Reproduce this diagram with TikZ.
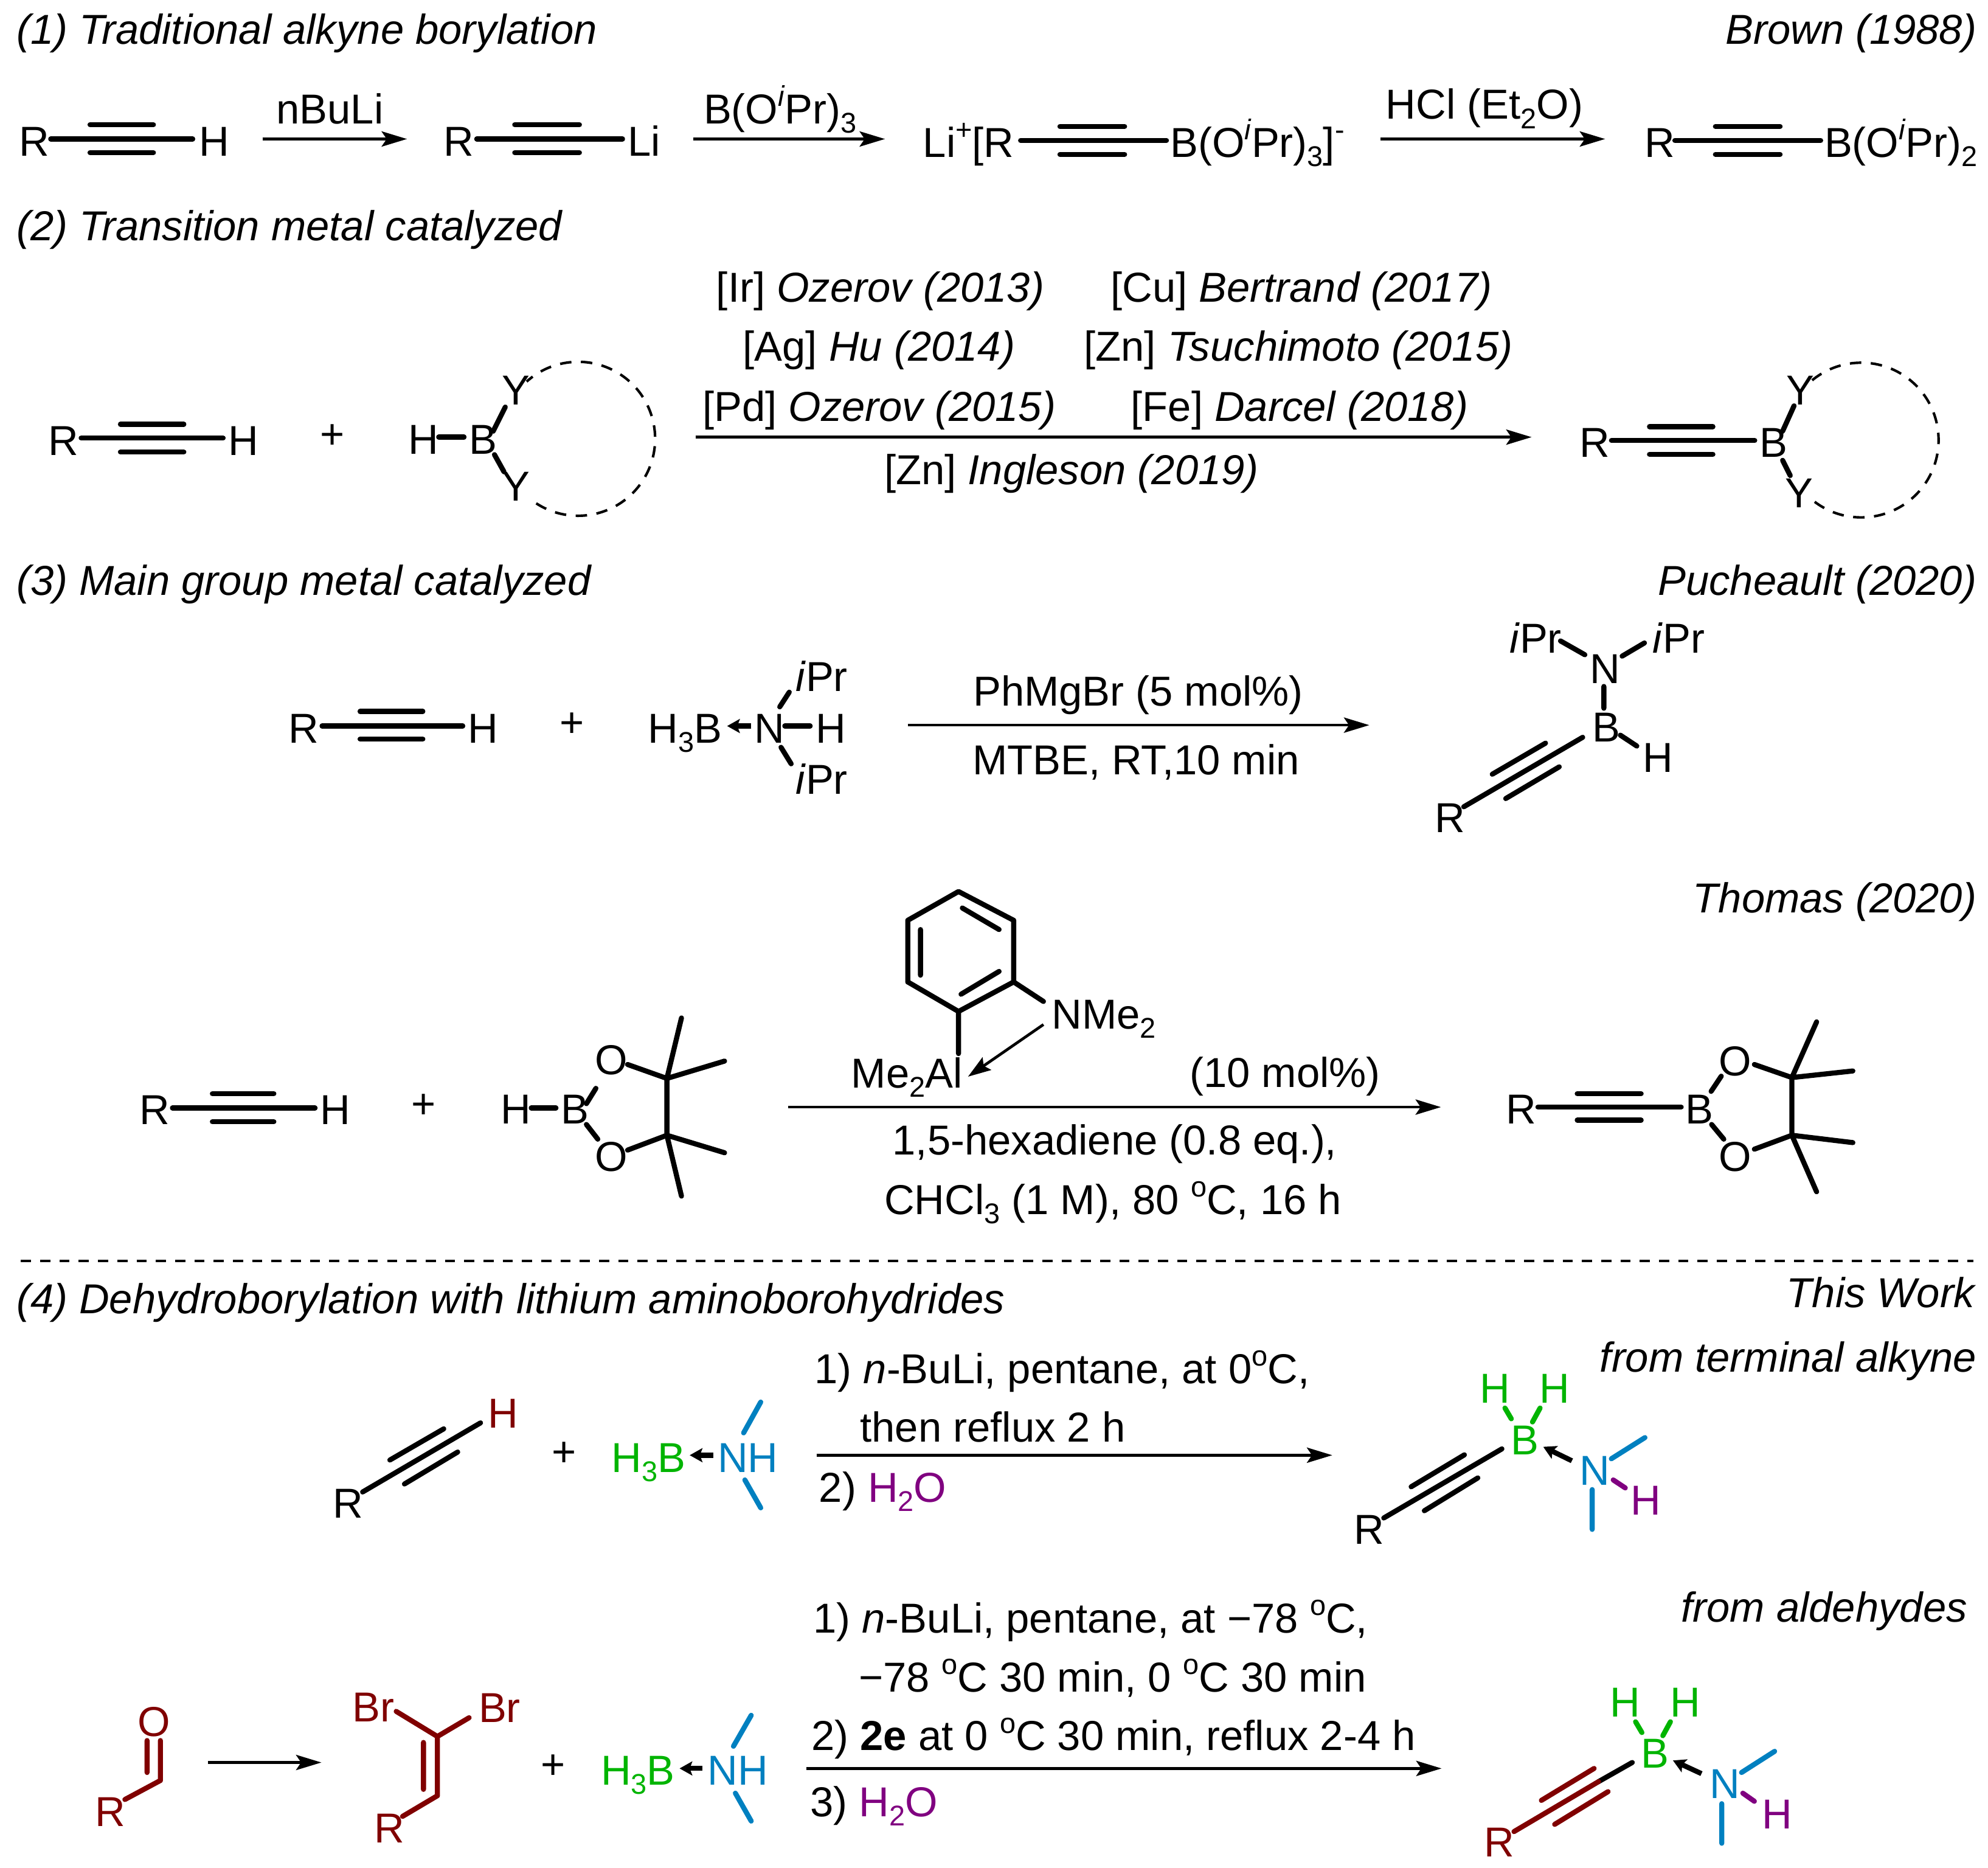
\documentclass[tikz,border=0pt]{standalone}
\usepackage{fontspec}
\setmainfont{Liberation Sans}
\usetikzlibrary{arrows.meta}
\definecolor{cred}{RGB}{128,0,0}
\definecolor{cgreen}{RGB}{0,180,0}
\definecolor{cblue}{RGB}{0,128,192}
\definecolor{cpurple}{RGB}{128,0,128}
\newcommand{\SubT}[1]{\raisebox{-0.22em}{\fontsize{22.5}{22.5}\selectfont #1}}
\newcommand{\SupT}[1]{\raisebox{0.42em}{\fontsize{22.5}{22.5}\selectfont #1}}
\newcommand{\OiPr}{O\SupT{\textit{i}}Pr}
\newcommand{\degC}{\SupT{o}C}
\newcommand{\Tl}[5][black]{\node[txt,text=#1,anchor=base west,yshift=-1pt] (#2) at (#3,#4) {#5};}
\newcommand{\Tr}[5][black]{\node[txt,text=#1,anchor=base east,xshift=1pt,yshift=-1pt] (#2) at (#3,#4) {#5};}
\newcommand{\Tc}[5][black]{\node[txt,text=#1,anchor=center,xshift=1pt] (#2) at (#3,#4) {#5};}
\tikzset{
  txt/.style={inner sep=0pt,outer sep=0pt,font=\fontsize{33}{33}\selectfont},
  bond/.style={line width=4pt,line cap=round,line join=round},
  rxn/.style={line width=2.2pt,-{Stealth[length=20pt,width=12pt,inset=4pt]}},
  dat/.style={line width=4pt,-{Stealth[length=10pt,width=11pt,inset=2pt]}},
  dashring/.style={line width=2pt,dash pattern=on 9pt off 7.5pt},
  divider/.style={line width=2.2pt,dash pattern=on 8pt off 7.2pt},
}
\begin{document}
\begin{tikzpicture}[x=1pt,y=-1pt]
\useasboundingbox (0,0) rectangle (1568,1472.6);
% ---------- (1)
\Tl{h1}{13}{33.6}{\textit{(1) Traditional alkyne borylation}}
\Tr{c1}{1558}{33.6}{\textit{Brown (1988)}}
\Tl{a1}{15}{122}{R}
\draw[bond] (40,109.6)--(152,109.6) (71,98.3)--(121,98.3) (71,120.3)--(121,120.3);
\Tl{a2}{157}{122}{H}
\Tl{r1}{218}{96.4}{nBuLi}
\coordinate (ar1s) at (207,109.6); \coordinate (ar1e) at (321,109.6);
\draw[rxn] (ar1s)--(ar1e);
\Tl{a3}{350}{122}{R}
\draw[bond] (376,109.6)--(491,109.6) (406,98.3)--(457,98.3) (406,120.3)--(457,120.3);
\Tl{a4}{495}{122}{Li}
\Tl{r2}{555}{96.4}{B(\OiPr)\SubT{3}}
\coordinate (ar2s) at (547,109.6); \coordinate (ar2e) at (698,109.6);
\draw[rxn] (ar2s)--(ar2e);
\Tl{a5}{728}{123}{Li\SupT{+}[R}
\draw[bond] (805,110.7)--(920,110.7) (836,99.7)--(887,99.7) (836,121.7)--(887,121.7);
\Tl{a6}{923}{123}{B(\OiPr)\SubT{3}]\SupT{-}}
\Tl{r3}{1093}{93}{HCl (Et\SubT{2}O)}
\coordinate (ar3s) at (1089,109.6); \coordinate (ar3e) at (1266,109.6);
\draw[rxn] (ar3s)--(ar3e);
\Tl{a7}{1297}{123}{R}
\draw[bond] (1321,110.7)--(1436,110.7) (1353,99.7)--(1404,99.7) (1353,121.7)--(1404,121.7);
\Tl{a8}{1439}{123}{B(\OiPr)\SubT{2}}
% ---------- (2)
\Tl{h2}{13}{188.6}{\textit{(2) Transition metal catalyzed}}
\Tl{b1}{38}{358}{R}
\draw[bond] (64,345.5)--(176,345.5) (95,334.5)--(145,334.5) (95,356.5)--(145,356.5);
\Tl{b2}{180}{358}{H}
\Tc{plus2}{261}{344}{+}
\Tl{b3}{322}{357}{H}
\draw[bond] (346,344.7)--(366,344.7);
\Tl{b4}{370}{357}{B}
\node[txt,anchor=base] (b5) at (407,319) {Y};
\node[txt,anchor=base] (b6) at (407,395) {Y};
\draw[bond] (389,340)--(398.5,321) (390,358.5)--(397.5,372);
\draw[dashring] (456,346) ++(123:60.7) arc[start angle=123,end angle=-132,radius=60.7];
\Tl{r4}{565}{237}{[Ir] \textit{Ozerov (2013)}}
\Tl{r5}{876}{237}{[Cu] \textit{Bertrand (2017)}}
\Tl{r6}{586}{283.5}{[Ag] \textit{Hu (2014)}}
\Tl{r7}{855}{283.5}{[Zn] \textit{Tsuchimoto (2015)}}
\Tl{r8}{554}{331}{[Pd] \textit{Ozerov (2015)}}
\Tl{r9}{892}{331}{[Fe] \textit{Darcel (2018)}}
\coordinate (ar4s) at (548.5,344.7); \coordinate (ar4e) at (1208,344.7);
\draw[rxn] (ar4s)--(ar4e);
\Tl{r10}{697.5}{381}{[Zn] \textit{Ingleson (2019)}}
\Tl{b7}{1246}{359.3}{R}
\draw[bond] (1271,347.4)--(1384,347.4) (1301,336.4)--(1351,336.4) (1301,358.2)--(1351,358.2);
\Tl{b8}{1388}{359.3}{B}
\node[txt,anchor=base] (b9) at (1420,319) {Y};
\node[txt,anchor=base] (b10) at (1419,400.5) {Y};
\draw[bond] (1406,340)--(1415,320) (1406,363)--(1412,375);
\draw[dashring] (1468,347) ++(127:61) arc[start angle=127,end angle=-131,radius=61];
% ---------- (3)
\Tl{h3}{13}{468.4}{\textit{(3) Main group metal catalyzed}}
\Tr{c3}{1558}{468.4}{\textit{Pucheault (2020)}}
\Tl{d1}{227.5}{585}{R}
\draw[bond] (254,572.5)--(365,572.5) (284,561)--(333.5,561) (284,582.8)--(333.5,582.8);
\Tl{d2}{369}{585}{H}
\Tc{plus3}{450}{571.5}{+}
\Tl{d3}{511}{585}{H\SubT{3}B}
\draw[dat] (592.5,572.5)--(573.5,572.5);
\Tl{d4}{595}{585}{N}
\draw[bond] (619,572.5)--(639,572.5);
\Tl{d5}{643.5}{585}{H}
\Tl{d6}{627.5}{544}{\textit{i}Pr}
\Tl{d7}{627.5}{625.3}{\textit{i}Pr}
\draw[bond] (615,557.4)--(622.5,545.8) (616,589.3)--(624,602.3);
\coordinate (ar5s) at (716,571.8); \coordinate (ar5e) at (1080,571.8);
\draw[rxn] (ar5s)--(ar5e);
\Tl{r11}{767.5}{555.7}{PhMgBr (5 mol\%)}
\Tl{r12}{767}{610}{MTBE, RT,10 min}
\Tl{e1}{1190.6}{514}{\textit{i}Pr}
\Tl{e2}{1303.5}{514}{\textit{i}Pr}
\Tl{e3}{1254}{538}{N}
\draw[bond] (1230.8,505.4)--(1250,516.3) (1279.4,517.4)--(1297,507) (1265,541.3)--(1265,558.5);
\Tl{e4}{1256}{584}{B}
\draw[bond] (1278,579.7)--(1291,588.3);
\Tl{e5}{1296}{608}{H}
\draw[bond] (1248.3,581.4)--(1154.5,636.2) (1219,586)--(1177,610.5) (1229.8,604.7)--(1187.6,629.7);
\Tl{e6}{1131.5}{655.4}{R}
\Tr{c4}{1558}{718.8}{\textit{Thomas (2020)}}
% pinacol row
\Tl{f1}{110}{885.6}{R}
\draw[bond] (136,873.7)--(248.5,873.7) (167.5,862.4)--(216,862.4) (167.5,884.6)--(216,884.6);
\Tl{f2}{252.5}{885.6}{H}
\Tc{plus4}{333}{872.3}{+}
\Tl{f3}{395}{885}{H}
\draw[bond] (419,873.7)--(438.5,873.7);
\Tl{f4}{442.5}{885}{B}
\Tc{f5}{481}{836}{O}
\Tc{f6}{481}{912.4}{O}
\draw[bond] (462.5,870.3)--(470,858.2) (462.5,886.7)--(471.5,898.3)
  (495,839.4)--(526,850.4)--(526,895.2)--(495,906.9)
  (537.5,802.7)--(526,850.4)--(571.5,836.7)
  (571.5,909)--(526,895.2)--(537.5,943.2);
% catalyst
\draw[bond] (756,703)--(799.5,725.7)--(799.5,774.3)--(756,797.6)--(716,774.3)--(716,725.7)--cycle;
\draw[bond] (726,733)--(726,769) (759,716)--(788,733) (758,784)--(788,766);
\draw[bond] (756,797.6)--(756,830.8) (799.5,774.3)--(823,789.7);
\coordinate (cat1) at (823,807.9); \coordinate (cat2) at (763.5,849);
\draw[line width=2.2pt,-{Stealth[length=18pt,width=12pt,inset=3pt]}] (cat1)--(cat2);
\Tl{g1}{829.6}{810.3}{NMe\SubT{2}}
\Tl{g2}{671.5}{857}{Me\SubT{2}Al}
\Tl{g3}{938.4}{856.5}{(10 mol\%)}
\coordinate (ar6s) at (621.5,873); \coordinate (ar6e) at (1136.5,873);
\draw[rxn] (ar6s)--(ar6e);
\Tl{r13}{704}{909.6}{1,5-hexadiene (0.8 eq.),}
\Tl{r14}{697.5}{956.6}{CHCl\SubT{3} (1 M), 80 \degC, 16 h}
\Tl{f7}{1188}{885}{R}
\draw[bond] (1213,873)--(1326,873) (1244,862.4)--(1294.4,862.4) (1244,883.3)--(1294.4,883.3);
\Tl{f8}{1329.5}{885}{B}
\Tc{f9}{1367.6}{837}{O}
\Tc{f10}{1367.6}{912}{O}
\draw[bond] (1349.6,860.6)--(1357.6,848.6) (1350,886.7)--(1359.6,898.3)
  (1383.7,839.4)--(1413.3,849.7)--(1413.3,895.2)--(1383.7,906.2)
  (1432.8,805.8)--(1413.3,849.7)--(1461.4,844.5)
  (1461.4,901)--(1413.3,895.2)--(1432.8,939.8);
% ---------- divider
\coordinate (divs) at (16.5,994.4); \coordinate (dive) at (1556.7,994.4);
\draw[divider] (divs)--(dive);
% ---------- (4)
\Tl{h4}{13}{1034.7}{\textit{(4) Dehydroborylation with lithium aminoborohydrides}}
\Tr{c5}{1558}{1030}{\textit{This Work}}
\Tr{c6}{1558}{1081}{\textit{from terminal alkyne}}
\Tl[cred]{k1}{385}{1125}{H}
\draw[bond] (379,1122)--(286,1176.5) (350,1126.7)--(307.5,1151.3) (361,1145)--(319,1170.2);
\Tl{k2}{262.5}{1196}{R}
\Tc{plus5}{444}{1146.5}{+}
\Tl[cgreen]{k3}{482.5}{1159.8}{H\SubT{3}B}
\draw[dat] (562.5,1147.5)--(544,1147.5);
\Tl[cblue]{k4}{566}{1160}{NH}
\draw[bond,cblue] (586.5,1129.9)--(600,1105.6) (587.5,1167)--(600,1189);
\Tl{r15}{642.5}{1089.8}{1) \textit{n}-BuLi, pentane, at 0\degC,}
\Tl{r16}{678.5}{1136}{then reflux 2 h}
\Tl{r17}{646}{1183.4}{2) \textcolor{cpurple}{H\SubT{2}O}}
\coordinate (ar7s) at (644,1147.5); \coordinate (ar7e) at (1050.8,1147.5);
\draw[rxn] (ar7s)--(ar7e);
\Tl[cgreen]{m1}{1167}{1105.3}{H}
\Tl[cgreen]{m2}{1214}{1105.3}{H}
\Tl[cgreen]{m3}{1191.6}{1146.2}{B}
\draw[bond,cgreen] (1187,1110.3)--(1192,1118.8) (1214.7,1110.3)--(1208.7,1121.3);
\draw[bond] (1184.6,1142.5)--(1091.4,1197) (1155,1147.2)--(1113,1172.4) (1165.6,1165.4)--(1123.4,1191.3);
\Tl{m4}{1067.8}{1216.5}{R}
\draw[dat] (1239.8,1151.9)--(1217.2,1140.9);
\Tl[cblue]{m5}{1245.8}{1169.9}{N}
\draw[bond,cblue] (1270.9,1150.3)--(1297.4,1133.6) (1255.8,1174.6)--(1255.8,1206);
\draw[bond,cpurple] (1272.4,1167)--(1281.9,1173.3);
\Tl[cpurple]{m6}{1286}{1193.8}{H}
% aldehyde row
\Tr{c7}{1550.6}{1278}{\textit{from aldehydes}}
\Tl[cred]{n1}{75}{1439.3}{R}
\draw[bond,cred] (98.5,1419)--(126.5,1404)--(126.5,1372.5) (116,1397.7)--(116,1372.5);
\Tc[cred]{n2}{120.5}{1357.7}{O}
\coordinate (ar8s) at (164,1389.8); \coordinate (ar8e) at (253.5,1389.8);
\draw[rxn] (ar8s)--(ar8e);
\Tl[cred]{n3}{278}{1356.7}{Br}
\Tl[cred]{n4}{377.5}{1357}{Br}
\draw[bond,cred] (312.5,1349.5)--(345,1369.3)--(370,1354.5) (345,1369.3)--(345,1416)--(317.5,1432.3) (334,1374)--(334,1411);
\Tl[cred]{n5}{295}{1451.9}{R}
\Tc{plus6}{435.5}{1393.3}{+}
\Tl[cgreen]{n6}{474}{1406.5}{H\SubT{3}B}
\draw[dat] (554,1394.5)--(536,1394.5);
\Tl[cblue]{n7}{558}{1406.5}{NH}
\draw[bond,cblue] (578.5,1377)--(592.5,1352.6) (580,1414)--(592.5,1436);
\Tl{r18}{641.5}{1286.8}{1) \textit{n}-BuLi, pentane, at −78 \degC,}
\Tl{r19}{677.5}{1333}{−78 \degC\ 30 min, 0 \degC\ 30 min}
\Tl{r20}{640}{1379.4}{2) \textbf{2e} at 0 \degC\ 30 min, reflux 2-4 h}
\Tl{r21}{639}{1431.4}{3) \textcolor{cpurple}{H\SubT{2}O}}
\coordinate (ar9s) at (636,1394.5); \coordinate (ar9e) at (1137,1394.5);
\draw[rxn] (ar9s)--(ar9e);
\Tl[cgreen]{p1}{1270}{1352.6}{H}
\Tl[cgreen]{p2}{1317.5}{1352.6}{H}
\Tl[cgreen]{p3}{1294.4}{1393.3}{B}
\draw[bond,cgreen] (1290,1357.7)--(1295,1366.2) (1317.5,1357.7)--(1311.5,1368.7);
\draw[bond] (1287.4,1389.8)--(1260.8,1404.9);
\draw[bond,cred] (1260.8,1404.9)--(1194.1,1444.3) (1257.3,1394.5)--(1215.7,1419.7) (1268.3,1412.8)--(1226.2,1438.6);
\Tl[cred]{p4}{1170.6}{1463.2}{R}
\draw[dat] (1342,1398.6)--(1319.5,1388.2);
\Tl[cblue]{p5}{1348.6}{1417.2}{N}
\draw[bond,cblue] (1373.6,1397.7)--(1399.7,1381) (1358,1422.3)--(1358,1453.5);
\draw[bond,cpurple] (1374.6,1414)--(1383.7,1420.4);
\Tl[cpurple]{p6}{1389.7}{1440.9}{H}
\end{tikzpicture}
\end{document}
